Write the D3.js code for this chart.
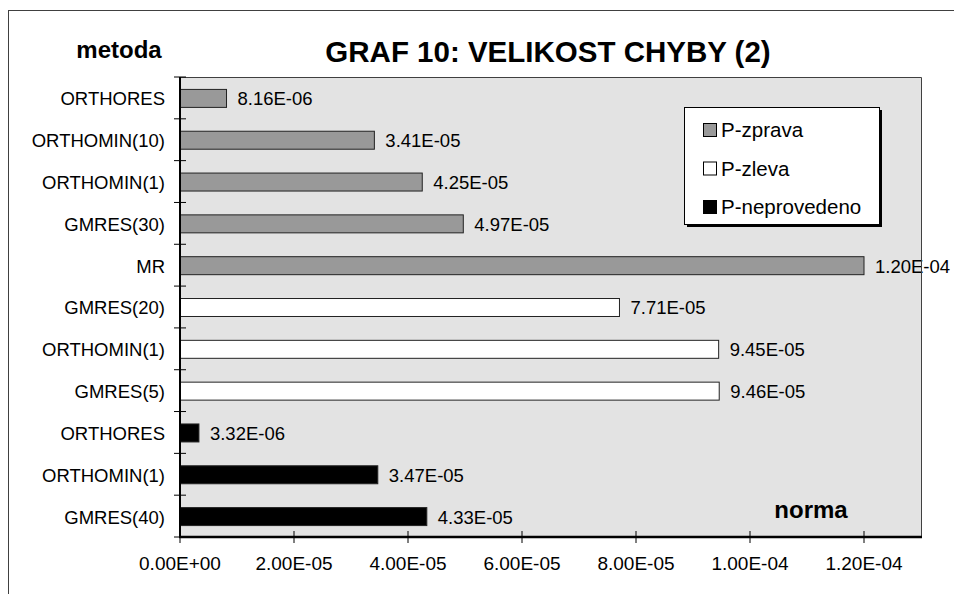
<!DOCTYPE html>
<html>
<head>
<meta charset="utf-8">
<script src="https://cdn.jsdelivr.net/npm/d3@7"></script>
<style>
  body { margin: 0; background: #fff; }
  svg { display: block; font-family: "Liberation Sans", Arial, sans-serif; }
</style>
</head>
<body>
<svg id="chart" width="954" height="594"></svg>
<script>
// methods top to bottom, values and the group each one belongs to
const methods = ["ORTHORES", "ORTHOMIN(10)", "ORTHOMIN(1)", "GMRES(30)", "MR",
  "GMRES(20)", "ORTHOMIN(1)", "GMRES(5)", "ORTHORES", "ORTHOMIN(1)", "GMRES(40)"];
const values = [8.16e-6, 3.41e-5, 4.25e-5, 4.97e-5, 1.20e-4,
  7.71e-5, 9.45e-5, 9.46e-5, 3.32e-6, 3.47e-5, 4.33e-5];
const valueLabels = ["8.16E-06", "3.41E-05", "4.25E-05", "4.97E-05", "1.20E-04",
  "7.71E-05", "9.45E-05", "9.46E-05", "3.32E-06", "3.47E-05", "4.33E-05"];
const groups = ["P-zprava", "P-zprava", "P-zprava", "P-zprava", "P-zprava",
  "P-zleva", "P-zleva", "P-zleva", "P-neprovedeno", "P-neprovedeno", "P-neprovedeno"];
const seriesNames = ["P-zprava", "P-zleva", "P-neprovedeno"];
const seriesColors = ["#999999", "#ffffff", "#000000"];
const xTicks = [0, 2e-5, 4e-5, 6e-5, 8e-5, 1e-4, 1.2e-4];
const xTickLabels = ["0.00E+00", "2.00E-05", "4.00E-05", "6.00E-05", "8.00E-05", "1.00E-04", "1.20E-04"];

const svg = d3.select("#chart");
const plot = { left: 180, top: 77, right: 921, bottom: 537 };

const x = d3.scaleLinear().domain([0, 1.3e-4]).range([plot.left, plot.right]);
const y = d3.scaleBand().domain(d3.range(methods.length)).range([plot.top, plot.bottom]).paddingInner(0.57).paddingOuter(0.285);
const color = d3.scaleOrdinal().domain(seriesNames).range(seriesColors);

// outer chart frame (runs off the picture on right and bottom)
svg.append("rect")
  .attr("x", 8.5).attr("y", 10.5)
  .attr("width", 980).attr("height", 620)
  .attr("fill", "none").attr("stroke", "#404040").attr("stroke-width", 1);

// plot area
svg.append("rect")
  .attr("x", plot.left).attr("y", plot.top)
  .attr("width", plot.right - plot.left).attr("height", plot.bottom - plot.top)
  .attr("fill", "#e3e3e3");

// bars
svg.append("g").selectAll("rect")
  .data(values)
  .join("rect")
  .attr("x", x(0))
  .attr("y", (d, i) => y(i) + 0.5)
  .attr("width", d => x(d) - x(0))
  .attr("height", y.bandwidth())
  .attr("fill", (d, i) => color(groups[i]))
  .attr("stroke", "#222")
  .attr("stroke-width", 1);

// value labels
svg.append("g").selectAll("text")
  .data(values)
  .join("text")
  .attr("x", d => x(d) + 11)
  .attr("y", (d, i) => y(i) + y.bandwidth() / 2 + 1)
  .attr("dy", "0.35em")
  .attr("font-size", 18.5)
  .attr("fill", "#000")
  .text((d, i) => valueLabels[i]);

// plot border top/right
svg.append("path")
  .attr("d", `M${plot.left},${plot.top + 0.5}H${plot.right + 0.5}V${plot.bottom}`)
  .attr("fill", "none").attr("stroke", "#404040").attr("stroke-width", 1);

// x axis
const xAxis = svg.append("g").attr("transform", `translate(0,${plot.bottom})`);
xAxis.append("line")
  .attr("x1", plot.left - 1).attr("x2", plot.right + 1)
  .attr("stroke", "#000").attr("stroke-width", 2.5);
xAxis.selectAll(".tick")
  .data(xTicks)
  .join("line")
  .attr("x1", d => x(d)).attr("x2", d => x(d))
  .attr("y1", -6).attr("y2", 6)
  .attr("stroke", "#000").attr("stroke-width", 1);
xAxis.selectAll("text")
  .data(xTicks)
  .join("text")
  .attr("x", d => x(d))
  .attr("y", 33)
  .attr("text-anchor", "middle")
  .attr("font-size", 19)
  .text((d, i) => xTickLabels[i]);

// y axis
const yAxis = svg.append("g");
yAxis.append("line")
  .attr("x1", plot.left).attr("x2", plot.left)
  .attr("y1", plot.top).attr("y2", plot.bottom + 1)
  .attr("stroke", "#000").attr("stroke-width", 2);
yAxis.selectAll(".tick")
  .data(d3.range(methods.length + 1))
  .join("line")
  .attr("x1", plot.left - 6).attr("x2", plot.left + 6)
  .attr("y1", i => plot.top + i * (plot.bottom - plot.top) / methods.length)
  .attr("y2", i => plot.top + i * (plot.bottom - plot.top) / methods.length)
  .attr("stroke", "#000").attr("stroke-width", 1);
yAxis.selectAll("text")
  .data(methods)
  .join("text")
  .attr("x", 165)
  .attr("y", (d, i) => y(i) + y.bandwidth() / 2 + 1)
  .attr("dy", "0.35em")
  .attr("text-anchor", "end")
  .attr("font-size", 18.5)
  .text(d => d);

// titles
svg.append("text")
  .attr("x", 548).attr("y", 62)
  .attr("text-anchor", "middle")
  .attr("font-size", 29.5).attr("font-weight", "bold")
  .text("GRAF 10: VELIKOST CHYBY (2)");
svg.append("text")
  .attr("x", 119).attr("y", 58)
  .attr("text-anchor", "middle")
  .attr("font-size", 24).attr("font-weight", "bold")
  .text("metoda");
svg.append("text")
  .attr("x", 811).attr("y", 518)
  .attr("text-anchor", "middle")
  .attr("font-size", 24).attr("font-weight", "bold")
  .text("norma");

// legend
const legend = svg.append("g").attr("transform", "translate(684,107)");
legend.append("rect")
  .attr("x", 3).attr("y", 3).attr("width", 195).attr("height", 117)
  .attr("fill", "#000");
legend.append("rect")
  .attr("x", 0.5).attr("y", 0.5).attr("width", 195).attr("height", 117)
  .attr("fill", "#fff").attr("stroke", "#000").attr("stroke-width", 1);
const item = legend.selectAll(".item")
  .data(seriesNames)
  .join("g")
  .attr("transform", (d, i) => `translate(0,${23 + i * 38.5})`);
item.append("rect")
  .attr("x", 19.5).attr("y", -6.5).attr("width", 13).attr("height", 13)
  .attr("fill", d => color(d)).attr("stroke", "#000").attr("stroke-width", 1);
item.append("text")
  .attr("x", 37).attr("y", 0)
  .attr("dy", "0.35em")
  .attr("font-size", 20.5)
  .text(d => d);
</script>
</body>
</html>
